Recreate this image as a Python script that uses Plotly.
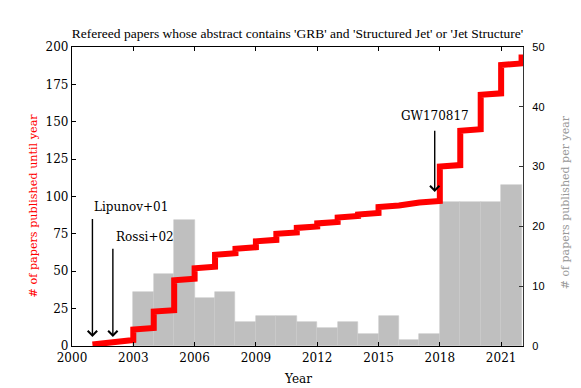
import numpy as np
import plotly.graph_objects as go

# papers per publication year
years = list(range(2001, 2023))
papers_per_year = [1, 1, 9, 12, 21, 8, 9, 4, 5, 5, 4, 3, 4, 2, 5, 1, 2, 24, 24, 24, 20, 7]

x_ticks = list(range(2000, 2022, 3))
left_ticks = list(range(0, 201, 25))
right_ticks = list(range(0, 51, 10))

# (label, arrow year, arrow tail, arrow tip, text x, text y, text anchor)
events = [
    ("Lipunov+01", 2001.0, 86, 6, 2001.0, 93, "left"),
    ("Rossi+02", 2002.0, 66, 6, 2002.05, 73, "left"),
    ("GW170817", 2017.75, 145, 103, 2017.75, 154, "center"),
]

title = "Refereed papers whose abstract contains 'GRB' and 'Structured Jet' or 'Jet Structure'"

# one entry per paper -> cumulative curve and yearly histogram
paper_years = np.repeat(years, papers_per_year)
cumulative = np.arange(1, len(paper_years) + 1)
counts, edges = np.histogram(paper_years, bins=np.arange(2003, 2023))

serif = "DejaVu Serif"

fig = go.Figure()

# yearly histogram on the right axis
fig.add_trace(go.Bar(
    x=edges[:-1] + 0.5, y=counts, width=1.0,
    marker=dict(color="#bfbfbf", line=dict(color="#cacaca", width=0.6)),
    yaxis="y", showlegend=False,
))

# cumulative count on the left axis
fig.add_trace(go.Scatter(
    x=paper_years, y=cumulative, mode="lines",
    line=dict(color="red", width=6),
    yaxis="y2", showlegend=False,
))

annotations = []
for label, ex, tail, tip, tx, ty, anchor in events:
    annotations.append(dict(
        x=ex, y=tip, ax=ex, ay=tail, xref="x", yref="y2", axref="x", ayref="y2",
        text="", showarrow=True, arrowhead=4, arrowsize=1.3, arrowwidth=1.4,
        arrowcolor="black",
    ))
    annotations.append(dict(
        x=tx, y=ty, xref="x", yref="y2", text=label, showarrow=False,
        xanchor=anchor, yanchor="middle", font=dict(family=serif, size=12, color="black"),
    ))

# axis titles
annotations += [
    dict(x=-0.0865, y=0.47, xref="paper", yref="paper", text="# of papers published until year",
         textangle=-90, showarrow=False, xanchor="center", yanchor="middle",
         font=dict(family=serif, size=11.2, color="red")),
    dict(x=1.095, y=0.48, xref="paper", yref="paper", text="# of papers published per year",
         textangle=-90, showarrow=False, xanchor="center", yanchor="middle",
         font=dict(family=serif, size=11, color="#999999")),
    dict(x=0.5, y=-0.11, xref="paper", yref="paper", text="Year",
         showarrow=False, xanchor="center", yanchor="middle",
         font=dict(family=serif, size=12, color="black")),
]

# the page body adds an 8px offset, so the figure is 8px smaller and margins shifted
fig.update_layout(
    width=573, height=380,
    margin=dict(l=64, r=58, t=39, b=42),
    plot_bgcolor="white", paper_bgcolor="white",
    title=dict(text=title, x=0.5, xref="paper", y=1 - 25 / 380, yanchor="middle",
               font=dict(family="Liberation Serif", size=13.5, color="black")),
    xaxis=dict(range=[2000, 2022.07], tickvals=x_ticks, ticks="inside", ticklen=4,
               tickcolor="black", showline=True, linecolor="black", linewidth=1.2,
               mirror="ticks", showgrid=False, zeroline=False,
               tickfont=dict(family=serif, size=12, color="black")),
    yaxis=dict(range=[0, 50], tickvals=right_ticks, side="right", ticks="inside",
               ticklen=4, tickcolor="#333333", showline=True, linecolor="#333333",
               linewidth=1.2, showgrid=False, zeroline=False, ticklabelstandoff=6,
               tickfont=dict(family="Liberation Sans", size=11, color="black")),
    yaxis2=dict(range=[0, 200], tickvals=left_ticks, side="left", overlaying="y",
                ticks="inside", ticklen=4, tickcolor="black", showline=True,
                linecolor="black", linewidth=1.2, showgrid=False, zeroline=False,
                tickfont=dict(family=serif, size=12, color="black")),
    annotations=annotations,
    bargap=0,
)

fig.write_html("out.html")
